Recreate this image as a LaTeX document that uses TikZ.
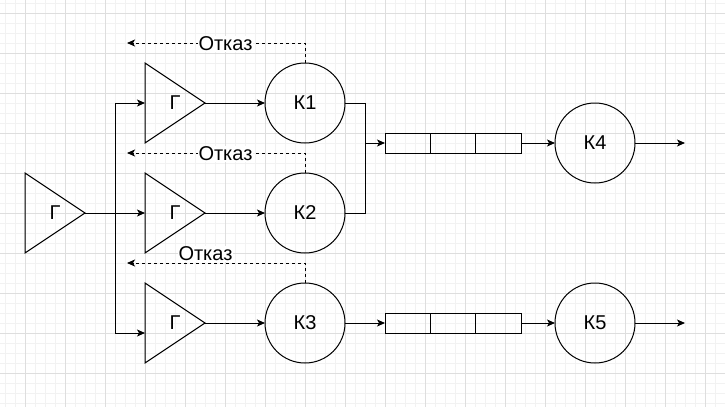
\documentclass[tikz,border=0pt]{standalone}
\usepackage{fontspec}
\setmainfont{Liberation Sans}
\usetikzlibrary{arrows.meta,calc}
\begin{document}
\begin{tikzpicture}[x=1pt,y=-1pt,
  line width=1pt,
  txt/.style={font=\fontsize{20}{24}\selectfont},
  arr/.style={-{Stealth[length=8pt,width=7pt,inset=2pt]}},
  dsh/.style={dash pattern=on 3pt off 3pt},
  tri/.style={txt,minimum width=60pt,minimum height=80pt,inner sep=0pt,outer sep=0pt},
  kan/.style={txt,circle,draw,minimum size=80pt,inner sep=0pt,outer sep=0pt},
  cell/.style={draw,minimum width=45.33pt,minimum height=20pt,inner sep=0pt,outer sep=0pt},
  lbl/.style={txt,fill=white,inner sep=1pt},
  minorgrid/.style={draw=black!5,line width=1pt},
  majorgrid/.style={draw=black!13,line width=1pt}
]
\useasboundingbox (0,0) rectangle (725,407);
\fill[white] (0,0) rectangle (725,407);
\begin{scope}
\clip (0,0) rectangle (725,407);
\foreach \x in {5,15,...,725} \draw[minorgrid] (\x,0) -- (\x,407);
\foreach \y in {3.333,13.333,...,410} \draw[minorgrid] (0,\y) -- (725,\y);
\foreach \x in {25,65,...,725} \draw[majorgrid] (\x,0) -- (\x,407);
\foreach \y in {13.333,53.333,...,410} \draw[majorgrid] (0,\y) -- (725,\y);
\end{scope}

% generators
\node[tri] (g0) at (55,213) {Г};
\node[tri] (g1) at (175,103) {Г};
\node[tri] (g2) at (175,213) {Г};
\node[tri] (g3) at (175,323) {Г};
\foreach \g in {g0,g1,g2,g3}
  \draw (\g.north west) -- (\g.east) -- (\g.south west) -- cycle;

% channels
\node[kan] (k1) at (305,103) {К1};
\node[kan] (k2) at (305,213) {К2};
\node[kan] (k3) at (305,323) {К3};
\node[kan] (k4) at (595,143) {К4};
\node[kan] (k5) at (595,323) {К5};

% queues
\node[cell] (q1a) at (407.67,143) {};
\node[cell] (q1b) at (453,143) {};
\node[cell] (q1c) at (498.33,143) {};
\node[cell] (q2a) at (407.67,323) {};
\node[cell] (q2b) at (453,323) {};
\node[cell] (q2c) at (498.33,323) {};

% helper coordinates
\coordinate (b0) at (115,213);
\coordinate (g3in) at (145,333);
\coordinate (j) at (365,143);
\coordinate (o4) at (685,143);
\coordinate (o5) at (685,323);
\coordinate (r1) at (127,43);
\coordinate (r2) at (127,153);
\coordinate (r3) at (127,263);

% connectors
\draw[arr] (g0.east) -- (g2.west);
\draw[arr] (b0) |- (g1.west);
\draw[arr] (b0) |- (g3in);
\draw[arr] (g1.east) -- (k1.west);
\draw[arr] (g2.east) -- (k2.west);
\draw[arr] (g3.east) -- (k3.west);
\draw (k1.east) -| (j);
\draw (k2.east) -| (j);
\draw[arr] (j) -- (q1a.west);
\draw[arr] (q1c.east) -- (k4.west);
\draw[arr] (k4.east) -- (o4);
\draw[arr] (k3.east) -- (q2a.west);
\draw[arr] (q2c.east) -- (k5.west);
\draw[arr] (k5.east) -- (o5);

% refusals
\draw[dsh,arr] (k1.north) |- (r1);
\draw[dsh,arr] (k2.north) |- (r2);
\draw[dsh,arr] (k3.north) |- (r3);
\node[lbl] (l1) at (225.5,44) {Отказ};
\node[lbl] (l2) at (225.5,154) {Отказ};
\node[lbl] (l3) at (205.5,254) {Отказ};
\end{tikzpicture}
\end{document}
